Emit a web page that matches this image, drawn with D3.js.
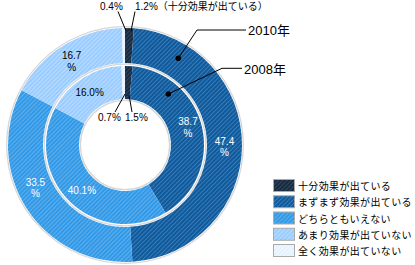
<!DOCTYPE html>
<html><head><meta charset="utf-8">
<script src="https://cdn.jsdelivr.net/npm/d3@7"></script>
<style>
html,body{margin:0;padding:0;background:#fff;}
svg{display:block;font-family:"Noto Sans CJK JP","Noto Sans",sans-serif;}
.num{font-family:"Liberation Sans","Noto Sans CJK JP",sans-serif;}
</style></head>
<body>
<svg id="chart" width="415" height="265"></svg>
<script>
const categories = ["十分効果が出ている","まずまず効果が出ている","どちらともいえない","あまり効果が出ていない","全く効果が出ていない"];
const values2010 = [1.2, 47.4, 33.5, 16.7, 0.4];
const values2008 = [1.5, 38.7, 40.1, 16.0, 0.7];
const yearLabels = ["2010年", "2008年"];

const baseColors = ["#182a40", "#0e5a9c", "#3399e6", "#99ccff", "#e4f1ff"];
const stripeColors = ["#34465c", "#3a7bb5", "#5cb0ee", "#bcdcff", "#f4f9ff"];

const svg = d3.select("#chart");
const defs = svg.append("defs");
baseColors.forEach((c, i) => {
  const p = defs.append("pattern").attr("id", "pat" + i)
    .attr("patternUnits", "userSpaceOnUse").attr("width", 3).attr("height", 3)
    .attr("patternTransform", "rotate(45)");
  p.append("rect").attr("width", 3).attr("height", 3).attr("fill", c);
  p.append("line").attr("x1", 0.5).attr("y1", 0).attr("x2", 0.5).attr("y2", 3)
    .attr("stroke", stripeColors[i]).attr("stroke-width", 1);
});
const fillOf = i => `url(#pat${i})`;

const cx = 125, cy = 145;
const g = svg.append("g").attr("transform", `translate(${cx},${cy})`);
const pie = d3.pie().sort(null).value(d => d);

const rings = [
  {vals: values2010, r0: 82, r1: 117},
  {vals: values2008, r0: 46, r1: 79}
];

[[118.3, 1.3], [80.8, 1.3], [44.6, 1.3]].forEach(([r, w]) => {
  g.append("circle").attr("r", r).attr("fill", "none").attr("stroke", "#d6d6d6").attr("stroke-width", w);
});

rings.forEach((ring) => {
  const arc = d3.arc().innerRadius(ring.r0).outerRadius(ring.r1);
  const arcs = pie(ring.vals);
  ring.arcs = arcs; ring.arc = arc;
  g.append("g").selectAll("path").data(arcs).join("path")
    .attr("d", arc).attr("fill", (d, i) => fillOf(i));
});

function pctLabel(ringIdx, i, twoLines, color, nudge) {
  const ring = rings[ringIdx];
  const [x, y] = ring.arc.centroid(ring.arcs[i]);
  const v = ring.vals[i].toFixed(1);
  const t = g.append("text").attr("class", "num").attr("text-anchor", "middle").attr("font-size", 10).attr("fill", color);
  const px = x + nudge[0], py = y + nudge[1];
  if (twoLines) {
    t.append("tspan").attr("x", px).attr("y", py - 1).text(v);
    t.append("tspan").attr("x", px).attr("y", py + 10.5).text("%");
  } else {
    t.attr("x", px).attr("y", py + 3.5).text(v + "%");
  }
}
pctLabel(0, 1, true, "#fff", [0, 0]);
pctLabel(0, 2, true, "#fff", [-6, -12]);
pctLabel(0, 3, true, "#000", [-1, 0]);
pctLabel(1, 1, true, "#fff", [2, -5]);
pctLabel(1, 2, false, "#fff", [0, 0]);
pctLabel(1, 3, false, "#000", [-2, 0]);

const annot = svg.append("g").attr("class", "num").attr("font-size", 10).attr("fill", "#000");
function leader(x1, y1, x2, y2) {
  svg.append("line").attr("x1", x1).attr("y1", y1).attr("x2", x2).attr("y2", y2)
    .attr("stroke", "#000").attr("stroke-width", 1);
}
annot.append("text").attr("x", 100).attr("y", 10).text(values2010[4].toFixed(1) + "%");
leader(118, 11.5, 126, 31);
annot.append("text").attr("x", 135).attr("y", 10).text(values2010[0].toFixed(1) + "%（" + categories[0] + "）");
leader(135, 11.5, 131, 31);
annot.append("text").attr("x", 98).attr("y", 121).text(values2008[4].toFixed(1) + "%");
leader(115, 112, 125, 94);
annot.append("text").attr("x", 125).attr("y", 121).text(values2008[0].toFixed(1) + "%");
leader(132, 112, 129, 95);

function callout(label, dot, elbow, end, ty) {
  svg.append("polyline").attr("points", [dot, elbow, end].map(p => p.join(",")).join(" "))
    .attr("fill", "none").attr("stroke", "#000").attr("stroke-width", 1);
  svg.append("circle").attr("cx", dot[0]).attr("cy", dot[1]).attr("r", 2.8).attr("fill", "#000");
  svg.append("text").attr("class", "num").attr("x", end[0] + 2).attr("y", ty).attr("font-size", 13).attr("fill", "#000").text(label);
}
callout(yearLabels[0], [178.3, 58.3], [197, 30], [246, 30], 35);
callout(yearLabels[1], [168.3, 94], [222, 68.3], [242, 68.3], 74);

const leg = svg.append("g");
const rowY = d3.scaleLinear().domain([0, 4]).range([186, 251]);
categories.forEach((c, i) => {
  const y = rowY(i);
  leg.append("rect").attr("x", 273.5).attr("y", y - 6.5).attr("width", 21).attr("height", 12)
    .attr("fill", fillOf(i)).attr("stroke", "#aaa").attr("stroke-width", 1);
  leg.append("text").attr("x", 298).attr("y", y + 4).attr("font-size", 10)
    .attr("letter-spacing", 0.35).attr("fill", "#000").text(c);
});
</script>
</body></html>
